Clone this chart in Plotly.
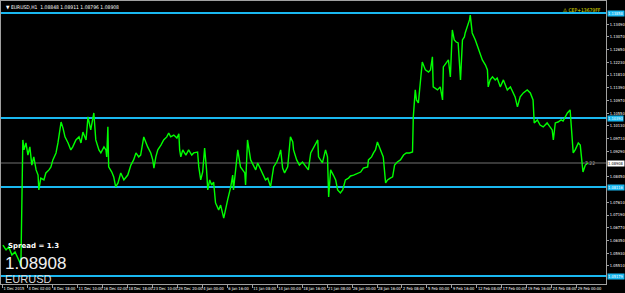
import plotly.graph_objects as go

# ---------------- data ----------------
bar_index = [5,13,20,28,36,44,49,51,54,56,59,64,69,74,79,84,90,95,97,102,110,115,123,128,133,141,146,151,154,159,
             164,172,179,184,192,200,205,210,218,223,230,238,243,251,256,264,269,271,274,276,284,289,294,300,307,315,325,333,340,346,
             353,358,366,376,384,389,392,397,402,410,417,425,430,435,443,451,456,458,461,466,474,481,489,494,504,507,512,517,522,527,
             530,535,540,545,550,558,563,571,576,581,589,594,596,602,607,614,620,625,627,632,640,648,653,658,666,673,678,684,691,699,
             707,712,717,722,727,735,742,748,750,758,765,773,781,788,794,801,806,812,814,819,824,832,837,840,845,852,858,863,870,876,
             883,891,896,904,914,922,929,940,942,950,955,960,965,970,975,980,986,991,998,1004,1009,1016,1024,1032,1039,1047,1055,1057,1062,1065,
             1070,1075,1080,1088,1096,1101,1106,1108,1114,1119,1126,1132,1134,1142,1147,1152,1157,1162,1167,1172,1178,1183,1188,1190,1196,1201,1203,1208,1216,1221,
             1229,1234,1242,1247,1249,1254,1260,1267,1272,1280,1288,1293,1298,1306,1313,1318,1324,1331,1339,1349,1357,1364,1367,1375,1382,1390,1400,1408,1413,1416,
             1421,1428,1436,1441,1452,1459,1464,1467,1472,1480,1485,1490,1492,1498,1505]
close_price = [1.0620,1.0604,1.0614,1.0587,1.0597,1.0577,1.0561,1.0551,1.0835,1.0967,1.0934,1.0957,1.0917,1.0944,1.0884,1.0911,1.0868,1.0851,1.0802,1.0841,
               1.0835,1.0858,1.0868,1.0878,1.0901,1.0924,1.0957,1.1000,1.1026,1.1006,1.0977,1.0957,1.0934,1.0944,1.0967,1.0977,1.0957,1.0993,1.0967,1.1043,
               1.1000,1.1056,1.0967,1.0934,1.0924,1.0944,1.0934,1.0911,1.1010,1.0878,1.0861,1.0845,1.0812,1.0825,1.0858,1.0835,1.0851,1.0884,1.0901,1.0924,
               1.0911,1.0917,1.0977,1.0944,1.0924,1.0901,1.0874,1.0911,1.0934,1.0950,1.0967,1.0977,1.0990,1.0977,1.0983,1.0973,1.0987,1.0934,1.0911,1.0934,
               1.0917,1.0934,1.0917,1.0924,1.0927,1.0878,1.0835,1.0861,1.0940,1.0868,1.0802,1.0835,1.0818,1.0828,1.0759,1.0736,1.0752,1.0709,1.0742,1.0769,
               1.0812,1.0851,1.0802,1.0884,1.0934,1.0878,1.0868,1.0858,1.0818,1.0967,1.0901,1.0878,1.0868,1.0891,1.0868,1.0851,1.0835,1.0841,1.0812,1.0878,
               1.0894,1.0911,1.0934,1.0874,1.0858,1.0878,1.0977,1.0960,1.0934,1.0901,1.0884,1.0894,1.0881,1.0868,1.0924,1.0940,1.0950,1.0967,1.0911,1.0901,
               1.0891,1.0934,1.0911,1.0779,1.0868,1.0851,1.0835,1.0802,1.0792,1.0802,1.0835,1.0841,1.0848,1.0851,1.0858,1.0861,1.0874,1.0878,1.0901,1.0911,
               1.0924,1.0934,1.0960,1.0944,1.0924,1.0911,1.0825,1.0835,1.0841,1.0845,1.0884,1.0894,1.0901,1.0917,1.0924,1.0924,1.0927,1.1043,1.1132,1.1099,
               1.1089,1.1165,1.1224,1.1198,1.1191,1.1198,1.1241,1.1142,1.1138,1.1132,1.1142,1.1099,1.1208,1.1221,1.1231,1.1175,1.1330,1.1297,1.1290,1.1287,
               1.1165,1.1297,1.1307,1.1320,1.1340,1.1363,1.1379,1.1320,1.1297,1.1280,1.1254,1.1231,1.1214,1.1198,1.1142,1.1165,1.1175,1.1165,1.1171,1.1142,
               1.1165,1.1148,1.1132,1.1142,1.1122,1.1109,1.1076,1.1109,1.1122,1.1132,1.1122,1.1099,1.1023,1.1033,1.1016,1.1010,1.1023,1.1006,1.1000,1.0967,
               1.1023,1.1026,1.1033,1.1029,1.1056,1.1066,1.0990,1.0924,1.0934,1.0957,1.0950,1.0878,1.0861,1.0884,1.0891]

x_tick_labels = ["1 Dec 2015", "4 Dec 02:00", "8 Dec 18:00", "11 Dec 10:00", "16 Dec 02:00", "18 Dec 18:00",
                 "23 Dec 10:00", "29 Dec 20:00", "4 Jan 00:00", "6 Jan 16:00", "11 Jan 08:00", "14 Jan 00:00",
                 "18 Jan 16:00", "21 Jan 08:00", "26 Jan 00:00", "28 Jan 16:00", "2 Feb 08:00", "5 Feb 00:00",
                 "9 Feb 16:00", "12 Feb 08:00", "17 Feb 00:00", "19 Feb 16:00", "24 Feb 08:00", "29 Feb 00:00"]
y_tick_values = [1.1349, 1.1307, 1.1265, 1.1223, 1.1181, 1.1139, 1.1097, 1.1055, 1.1013, 1.0971, 1.0929,
                 1.0845, 1.0761, 1.0719, 1.0677, 1.0635, 1.0593, 1.0551]
level_prices = [1.13858, 1.10393, 1.08116, 1.05179]
last_price = 1.08908
spread = 1.3
header_ohlc = [1.08848, 1.08911, 1.08796, 1.08908]
bars_per_label = 64

# ---------------- figure ----------------
CYAN = "#1ab8f0"
SMALL = "DejaVu Sans Condensed, Liberation Sans Narrow, DejaVu Sans"
fig = go.Figure()
fig.add_trace(go.Scatter(x=bar_index, y=close_price, mode="lines",
                         line=dict(color="#00ff00", width=1.4), hoverinfo="skip"))

shapes = []
for lv in level_prices:
    shapes.append(dict(type="line", xref="paper", x0=0, x1=1, yref="y", y0=lv, y1=lv,
                       line=dict(color=CYAN, width=2), layer="below"))
shapes.append(dict(type="line", xref="paper", x0=0, x1=1, yref="y", y0=last_price, y1=last_price,
                   line=dict(color="#707070", width=1), layer="below"))

annotations = []
for lv in level_prices:
    annotations.append(dict(xref="paper", x=1.0, xanchor="left", yref="y", y=lv, yanchor="middle",
                            text=f"{lv:.5f}", showarrow=False, bgcolor=CYAN,
                            font=dict(size=4, color="#ffffff", family=SMALL), borderpad=0, xshift=1))
annotations.append(dict(xref="paper", x=1.0, xanchor="left", yref="y", y=last_price, yanchor="middle",
                        text=f"{last_price:.5f}", showarrow=False, bgcolor="#ffffff",
                        font=dict(size=4, color="#000000", family=SMALL), borderpad=0, xshift=1))
annotations.append(dict(xref="paper", x=0.985, xanchor="right", yref="y", y=last_price, yanchor="middle",
                        text="- 7.22", showarrow=False,
                        font=dict(size=5, color="#9a9a9a", family=SMALL)))
annotations.append(dict(xref="paper", x=0.005, xanchor="left", yref="paper", y=0.996, yanchor="top",
                        text="▼ EURUSD,H1  " + " ".join(f"{v:.5f}" for v in header_ohlc), showarrow=False,
                        font=dict(size=5, color="#ffffff", family=SMALL)))
annotations.append(dict(xref="paper", x=0.995, xanchor="right", yref="paper", y=0.985, yanchor="top",
                        text="⚠ CEP+13679FF", showarrow=False,
                        font=dict(size=5, color="#e0e000", family=SMALL)))
annotations.append(dict(xref="paper", x=0.008, xanchor="left", yref="paper", y=0.134, yanchor="middle",
                        text=f"<b>Spread = {spread}</b>", showarrow=False,
                        font=dict(size=7, color="#ffffff", family="DejaVu Sans")))
annotations.append(dict(xref="paper", x=0.003, xanchor="left", yref="paper", y=0.073, yanchor="middle",
                        text=f"{last_price:.5f}", showarrow=False,
                        font=dict(size=17, color="#f0f0f0", family="Liberation Sans")))
annotations.append(dict(xref="paper", x=0.003, xanchor="left", yref="paper", y=0.018, yanchor="middle",
                        text="EURUSD", showarrow=False,
                        font=dict(size=11, color="#d8d8d8", family="Liberation Sans")))

fig.update_layout(
    width=625, height=293,
    margin=dict(l=1, r=19, t=1, b=9),
    paper_bgcolor="#000000", plot_bgcolor="#000000",
    showlegend=False,
    shapes=shapes, annotations=annotations,
    xaxis=dict(range=[0, 1551], showgrid=False, zeroline=False, automargin=False,
               tickvals=[4 + bars_per_label * i for i in range(len(x_tick_labels))],
               ticktext=x_tick_labels, ticks="outside", ticklen=3, tickcolor="#a0a0a0",
               ticklabelposition="outside right", tickangle=0,
               tickfont=dict(size=4, color="#ffffff", family=SMALL),
               showline=True, linecolor="#a0a0a0", linewidth=1, mirror=True),
    yaxis=dict(range=[1.04915, 1.14254], side="right", showgrid=False, zeroline=False, automargin=False,
               tickvals=y_tick_values, ticktext=[f"{v:.5f}" for v in y_tick_values],
               ticks="outside", ticklen=2, tickcolor="#a0a0a0", ticklabelstandoff=0,
               tickfont=dict(size=4, color="#ffffff", family=SMALL),
               showline=True, linecolor="#a0a0a0", linewidth=1, mirror=True),
)

fig.write_html("out.html")
